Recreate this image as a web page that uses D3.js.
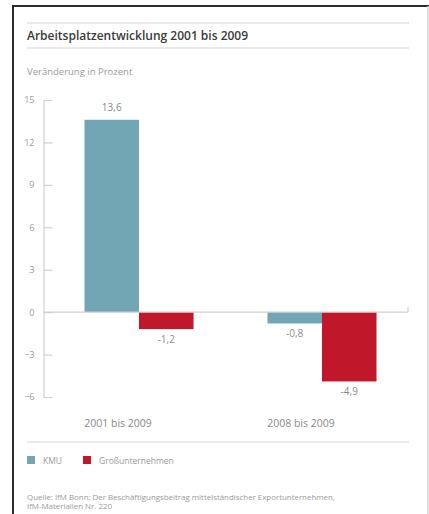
<!DOCTYPE html>
<html>
<head>
<meta charset="utf-8">
<script src="https://cdn.jsdelivr.net/npm/d3@7"></script>
<style>
    html, body { margin: 0; padding: 0; background: #ffffff; }
    svg { display: block; font-family: "Open Sans", "Noto Sans", sans-serif; }
</style>
</head>
<body>
<div id="chart"></div>
<script>
const categories = ["2001 bis 2009", "2008 bis 2009"];
const seriesNames = ["KMU", "Großunternehmen"];
const kmuValues = [13.6, -0.8];
const grossValues = [-1.2, -4.9];
const yTicks = [15, 12, 9, 6, 3, 0, -3, -6];
const colours = ["#72a6b5", "#c1172b"];

const width = 429;
const height = 514;

const rows = categories.map((c, i) => ({
    category: c,
    values: [
        { series: seriesNames[0], value: kmuValues[i] },
        { series: seriesNames[1], value: grossValues[i] }
    ]
}));

const svg = d3.select("#chart").append("svg")
    .attr("width", width)
    .attr("height", height)
    .attr("viewBox", [0, 0, width, height]);

// frame
svg.append("line").attr("x1", 13).attr("x2", width).attr("y1", 6).attr("y2", 6)
    .attr("stroke", "#2b2b2b").attr("stroke-width", 2);
svg.append("line").attr("x1", 13).attr("x2", 13).attr("y1", 5).attr("y2", height)
    .attr("stroke", "#2b2b2b").attr("stroke-width", 2);
svg.append("line").attr("x1", 428).attr("x2", 428).attr("y1", 6).attr("y2", height)
    .attr("stroke", "#d6d6d6").attr("stroke-width", 1.5);

// header
[23, 48, 442].forEach((y) => {
    svg.append("line").attr("x1", 27).attr("x2", 409).attr("y1", y).attr("y2", y)
        .attr("stroke", "#e2e2e2").attr("stroke-width", 1.5);
});

svg.append("text")
    .attr("x", 27).attr("y", 40)
    .attr("fill", "#3a3a3a")
    .attr("font-size", 12)
    .attr("font-weight", 600)
    .text("Arbeitsplatzentwicklung 2001 bis 2009");

svg.append("text")
    .attr("x", 27).attr("y", 75)
    .attr("fill", "#9a9a9a")
    .attr("font-size", 9.5)
    .text("Veränderung in Prozent");

const y = d3.scaleLinear()
    .domain([-6, 15])
    .range([397, 100]);

const x0 = d3.scaleBand()
    .domain(categories)
    .range([43.5, 417.5])
    .paddingInner(0.404)
    .paddingOuter(0.224);

const x1 = d3.scaleBand()
    .domain(seriesNames)
    .range([0, x0.bandwidth()]);

const colour = d3.scaleOrdinal().domain(seriesNames).range(colours);

// y axis
const yAxis = svg.append("g")
    .attr("transform", "translate(43.5,0)")
    .call(d3.axisLeft(y).tickValues(yTicks).tickSize(-9).tickSizeOuter(0).tickPadding(9));
yAxis.select(".domain").attr("stroke", "#d0d0d0").attr("stroke-width", 1.2);
yAxis.selectAll(".tick line").attr("stroke", "#d0d0d0").attr("stroke-width", 1.2);
yAxis.selectAll(".tick text")
    .attr("fill", "#9a9a9a")
    .attr("font-size", 9)
    .attr("font-family", "'Open Sans', sans-serif");

// bars
const groups = svg.append("g")
    .selectAll("g")
    .data(rows)
    .join("g")
    .attr("transform", (d) => `translate(${x0(d.category)},0)`);

groups.selectAll("rect")
    .data((d) => d.values)
    .join("rect")
    .attr("x", (d) => x1(d.series))
    .attr("y", (d) => y(Math.max(0, d.value)))
    .attr("width", x1.bandwidth())
    .attr("height", (d) => Math.abs(y(d.value) - y(0)))
    .attr("fill", (d) => colour(d.series));

groups.selectAll("text")
    .data((d) => d.values)
    .join("text")
    .attr("x", (d) => x1(d.series) + x1.bandwidth() / 2)
    .attr("y", (d) => d.value >= 0 ? y(d.value) - 9 : y(d.value) + 14)
    .attr("text-anchor", "middle")
    .attr("fill", "#8a8a8a")
    .attr("font-size", 10)
    .text((d) => d3.format(".1f")(d.value).replace(".", ",").replace("−", "-"));

// zero line
svg.append("line")
    .attr("x1", 43.5).attr("x2", 408)
    .attr("y1", y(0)).attr("y2", y(0))
    .attr("stroke", "#d0d0d0").attr("stroke-width", 1.2);
svg.append("line")
    .attr("x1", 408).attr("x2", 408)
    .attr("y1", y(0) - 5).attr("y2", y(0))
    .attr("stroke", "#d0d0d0").attr("stroke-width", 1.2);

// category labels
svg.append("g")
    .selectAll("text")
    .data(categories)
    .join("text")
    .attr("x", (d) => x0(d) + x0.bandwidth() / 2 - 21)
    .attr("y", 427)
    .attr("text-anchor", "middle")
    .attr("fill", "#8a8a8a")
    .attr("font-size", 10.5)
    .text((d) => d);

// legend
const legendX = [27, 83];
const legend = svg.append("g")
    .selectAll("g")
    .data(seriesNames)
    .join("g")
    .attr("transform", (d, i) => `translate(${legendX[i]},456)`);
legend.append("rect")
    .attr("width", 8).attr("height", 8)
    .attr("fill", (d) => colour(d));
legend.append("text")
    .attr("x", 16).attr("y", 7.5)
    .attr("fill", "#9a9a9a")
    .attr("font-size", 8.5)
    .text((d) => d);

// source
const source = [
    "Quelle: IfM Bonn: Der Beschäftigungsbeitrag mittelständischer Exportunternehmen,",
    "IfM-Materialien Nr. 220"
];
svg.append("g")
    .selectAll("text")
    .data(source)
    .join("text")
    .attr("x", 27)
    .attr("y", (d, i) => 500 + i * 9)
    .attr("fill", "#9a9a9a")
    .attr("font-size", 7.9)
    .text((d) => d);
</script>
</body>
</html>
